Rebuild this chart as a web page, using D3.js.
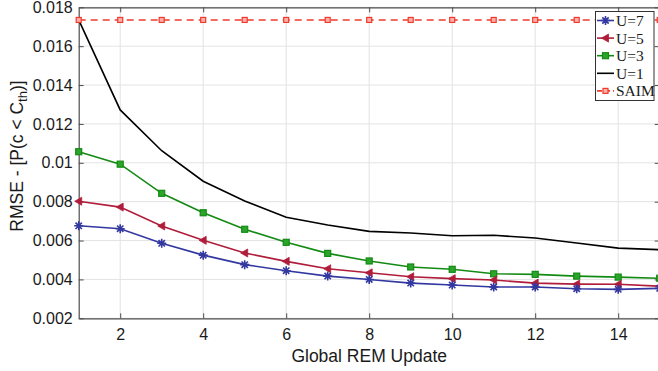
<!DOCTYPE html>
<html>
<head>
<meta charset="utf-8">
<script src="https://cdn.jsdelivr.net/npm/d3@7"></script>
<style>
  body { margin: 0; background: #fff; }
  text { font-family: "Liberation Sans", Arial, sans-serif; }
</style>
</head>
<body>
<svg id="chart"></svg>
<script>
var updates = d3.range(1, 16);
var u7 = [0.00676, 0.00661, 0.00586, 0.00525, 0.00476, 0.00445, 0.00417, 0.00400, 0.00381, 0.00371, 0.00361, 0.00361, 0.00352, 0.00349, 0.00354];
var u5 = [0.00802, 0.00772, 0.00675, 0.00601, 0.00536, 0.00493, 0.00455, 0.00434, 0.00414, 0.00404, 0.00397, 0.00381, 0.00376, 0.00375, 0.00365];
var u3 = [0.01057, 0.00993, 0.00843, 0.00743, 0.00658, 0.00591, 0.00534, 0.00495, 0.00464, 0.00452, 0.00429, 0.00426, 0.00417, 0.00412, 0.00406];
var u1 = [0.01735, 0.01272, 0.01062, 0.00905, 0.00804, 0.00720, 0.00680, 0.00647, 0.00639, 0.00625, 0.00627, 0.00613, 0.00587, 0.00561, 0.00553];
var saim = [0.01735, 0.01735, 0.01735, 0.01735, 0.01735, 0.01735, 0.01735, 0.01735, 0.01735, 0.01735, 0.01735, 0.01735, 0.01735, 0.01735, 0.01735];
var xTicks = [2, 4, 6, 8, 10, 12, 14];
var yTicks = [0.002, 0.004, 0.006, 0.008, 0.01, 0.012, 0.014, 0.016, 0.018];
var yTickLabels = ["0.002", "0.004", "0.006", "0.008", "0.01", "0.012", "0.014", "0.016", "0.018"];

var width = 658, height = 371;
var plotLeft = 78.7, plotRight = 659.7, plotTop = 7.3, plotBottom = 318.3;

var svg = d3.select('#chart')
    .attr('width', width)
    .attr('height', height);

var x = d3.scaleLinear().domain([1, 15]).range([plotLeft, plotRight]);
var y = d3.scaleLinear().domain([0.002, 0.018]).range([plotBottom, plotTop]);

// grid
svg.append('g').selectAll('line').data(xTicks).join('line')
    .attr('x1', d => x(d)).attr('x2', d => x(d))
    .attr('y1', plotTop).attr('y2', plotBottom)
    .attr('stroke', '#e3e3e3').attr('stroke-width', 1);
svg.append('g').selectAll('line').data(yTicks).join('line')
    .attr('x1', plotLeft).attr('x2', plotRight)
    .attr('y1', d => y(d)).attr('y2', d => y(d))
    .attr('stroke', '#e3e3e3').attr('stroke-width', 1);

// axes (MATLAB style, ticks inward)
var axisColor = '#4d4d4d';
var xAxis = d3.axisBottom(x).tickValues(xTicks).tickSizeInner(-5).tickSizeOuter(0).tickPadding(10);
var yAxis = d3.axisLeft(y).tickValues(yTicks).tickSizeInner(-5).tickSizeOuter(0).tickPadding(6)
    .tickFormat((d, i) => yTickLabels[i]);
var xTop = d3.axisTop(x).tickValues(xTicks).tickSizeInner(-5).tickSizeOuter(0).tickFormat('');
var yRight = d3.axisRight(y).tickValues(yTicks).tickSizeInner(-5).tickSizeOuter(0).tickFormat('');

function styleAxis(g) {
    g.select('.domain').attr('stroke', axisColor).attr('stroke-width', 1.2);
    g.selectAll('.tick line').attr('stroke', axisColor);
    g.selectAll('.tick text').attr('fill', '#1a1a1a')
        .style('font-family', '"Liberation Sans", Arial, sans-serif').style('font-size', '16px');
}
svg.append('g').attr('transform', 'translate(0,' + plotBottom + ')').call(xAxis).call(styleAxis);
svg.append('g').attr('transform', 'translate(' + plotLeft + ',0)').call(yAxis).call(styleAxis);
svg.append('g').attr('transform', 'translate(0,' + plotTop + ')').call(xTop).call(styleAxis);
svg.append('g').attr('transform', 'translate(' + plotRight + ',0)').call(yRight).call(styleAxis);

// series
var series = [
    { name: 'U=1', values: u1, color: '#000000', marker: 'none', dash: null },
    { name: 'U=3', values: u3, color: '#138a13', marker: 'square', dash: null },
    { name: 'U=5', values: u5, color: '#b01d3b', marker: 'triangle', dash: null },
    { name: 'U=7', values: u7, color: '#3238a0', marker: 'star', dash: null },
    { name: 'SAIM', values: saim, color: '#f03a2e', marker: 'smallsquare', dash: '7,5' }
];

var line = d3.line()
    .x((d, i) => x(updates[i]))
    .y(d => y(d));

function drawMarker(g, type, color, cx, cy) {
    if (type === 'square') {
        g.append('rect').attr('x', cx - 3).attr('y', cy - 3).attr('width', 6).attr('height', 6)
            .attr('fill', '#2aa52a').attr('stroke', color).attr('stroke-width', 1.2);
    } else if (type === 'smallsquare') {
        g.append('rect').attr('x', cx - 2.5).attr('y', cy - 2.5).attr('width', 5).attr('height', 5)
            .attr('fill', '#ffb0a8').attr('stroke', color).attr('stroke-width', 1.2);
    } else if (type === 'triangle') {
        g.append('path').attr('d', 'M' + (cx - 4) + ',' + cy + 'L' + (cx + 3) + ',' + (cy - 4) + 'L' + (cx + 3) + ',' + (cy + 4) + 'Z')
            .attr('fill', color).attr('stroke', color).attr('stroke-width', 0.8);
    } else if (type === 'star') {
        var r = 4.5;
        var p = '';
        for (var k = 0; k < 4; k++) {
            var a = k * Math.PI / 4;
            p += 'M' + (cx - r * Math.cos(a)) + ',' + (cy - r * Math.sin(a)) + 'L' + (cx + r * Math.cos(a)) + ',' + (cy + r * Math.sin(a));
        }
        g.append('path').attr('d', p).attr('stroke', color).attr('stroke-width', 1.6).attr('fill', 'none');
    }
}

series.forEach(function (s) {
    var g = svg.append('g');
    g.append('path')
        .datum(s.values)
        .attr('d', line)
        .attr('fill', 'none')
        .attr('stroke', s.color)
        .attr('stroke-width', 1.6)
        .attr('stroke-dasharray', s.dash);
    s.values.forEach(function (v, i) {
        drawMarker(g, s.marker, s.color, x(updates[i]), y(v));
    });
});

// axis labels
svg.append('text')
    .attr('x', (plotLeft + plotRight) / 2)
    .attr('y', 362)
    .attr('text-anchor', 'middle')
    .style('font-size', '17.5px')
    .attr('fill', '#1a1a1a')
    .text('Global REM Update');

var yl = svg.append('text')
    .attr('transform', 'translate(23,156) rotate(-90)')
    .attr('text-anchor', 'middle')
    .style('font-size', '17.5px')
    .attr('fill', '#1a1a1a');
yl.append('tspan').text('RMSE - [P(c < C');
yl.append('tspan').attr('dy', 4).style('font-size', '13px').text('th');
yl.append('tspan').attr('dy', -4).text(')]');

// legend
var legendOrder = ['U=7', 'U=5', 'U=3', 'U=1', 'SAIM'];
var lg = svg.append('g');
lg.append('rect')
    .attr('x', 595.5).attr('y', 11.5).attr('width', 58.5).attr('height', 89)
    .attr('fill', '#ffffff').attr('stroke', '#333333').attr('stroke-width', 1);
legendOrder.forEach(function (name, i) {
    var s = series.find(d => d.name === name);
    var ly = 20.5 + i * 17.6;
    lg.append('line')
        .attr('x1', 597).attr('x2', 614)
        .attr('y1', ly).attr('y2', ly)
        .attr('stroke', s.color).attr('stroke-width', 1.6)
        .attr('stroke-dasharray', s.dash ? '5,3' : null);
    drawMarker(lg, s.marker, s.color, 605.5, ly);
    lg.append('text')
        .attr('x', 616).attr('y', ly + 5.5)
        .style('font-family', '"Liberation Serif", "DejaVu Serif", serif')
        .style('font-size', '15.5px')
        .attr('fill', '#1a1a1a')
        .text(s.name);
});
</script>
</body>
</html>
